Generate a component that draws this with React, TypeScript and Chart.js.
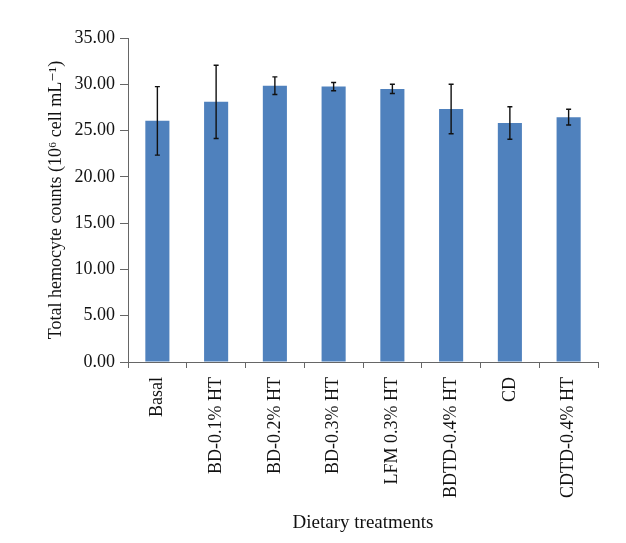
import React, { useEffect, useRef } from "react";
import { Chart, registerables } from "chart.js";

Chart.register(...registerables);

const categories = [
  "Basal",
  "BD-0.1% HT",
  "BD-0.2% HT",
  "BD-0.3% HT",
  "LFM 0.3% HT",
  "BDTD-0.4% HT",
  "CD",
  "CDTD-0.4% HT",
];
const means = [26.05, 28.1, 29.85, 29.75, 29.5, 27.33, 25.82, 26.45];
const errors = [3.7, 3.95, 0.95, 0.45, 0.5, 2.67, 1.75, 0.85];

const FONT = "'Liberation Serif', 'DejaVu Serif', serif";

const errorBarPlugin = {
  id: "errorBars",
  afterDatasetsDraw(chart: any) {
    const ctx = chart.ctx;
    const meta = chart.getDatasetMeta(0);
    const yScale = chart.scales.y;
    ctx.save();
    ctx.strokeStyle = "#111";
    ctx.lineWidth = 1.4;
    meta.data.forEach((bar: any, i: number) => {
      const x = bar.x;
      const yTop = yScale.getPixelForValue(means[i] + errors[i]);
      const yBot = yScale.getPixelForValue(means[i] - errors[i]);
      const cap = 2.5;
      ctx.beginPath();
      ctx.moveTo(x, yTop);
      ctx.lineTo(x, yBot);
      ctx.moveTo(x - cap, yTop);
      ctx.lineTo(x + cap, yTop);
      ctx.moveTo(x - cap, yBot);
      ctx.lineTo(x + cap, yBot);
      ctx.stroke();
    });
    ctx.restore();
  },
};

export default function App() {
  const ref = useRef<HTMLCanvasElement>(null);
  useEffect(() => {
    if (!ref.current) return;
    const chart = new Chart(ref.current, {
      type: "bar",
      data: {
        labels: categories,
        datasets: [
          {
            data: means,
            backgroundColor: "#4F81BD",
            barPercentage: 0.41,
            categoryPercentage: 1.0,
          },
        ],
      },
      options: {
        animation: false,
        responsive: false,
        devicePixelRatio: 1,
        layout: { padding: { left: 0, right: 28, top: 38, bottom: 0 } },
        plugins: { legend: { display: false }, tooltip: { enabled: false } },
        scales: {
          x: {
            offset: true,
            grid: {
              offset: true,
              drawOnChartArea: false,
              drawTicks: true,
              tickLength: 6,
              color: "#666",
            },
            border: { color: "#666", width: 1 },
            ticks: {
              minRotation: 90,
              maxRotation: 90,
              autoSkip: false,
              color: "#111",
              font: { family: FONT, size: 18 },
              padding: 9,
            },
            title: {
              display: true,
              text: "Dietary treatments",
              color: "#111",
              font: { family: FONT, size: 19 },
              padding: { top: 0, bottom: 9 },
            },
            afterFit: (axis: any) => {
              axis.height = 543 - 362;
            },
          },
          y: {
            min: 0,
            max: 35,
            ticks: {
              stepSize: 5,
              color: "#111",
              font: { family: FONT, size: 18 },
              padding: 5,
              callback: (v: any) => Number(v).toFixed(2),
            },
            grid: {
              drawOnChartArea: false,
              drawTicks: true,
              tickLength: 8,
              color: "#666",
            },
            border: { color: "#666", width: 1 },
            title: {
              display: true,
              text: "Total hemocyte counts (10⁶ cell mL⁻¹)",
              color: "#111",
              font: { family: FONT, size: 18 },
              padding: { top: 45, bottom: 0 },
            },
            afterFit: (axis: any) => {
              axis.width = 128;
            },
          },
        },
      },
      plugins: [errorBarPlugin],
    });
    return () => chart.destroy();
  }, []);
  return (
    <div style={{ position: "fixed", left: 0, top: 0, width: 626, height: 543, background: "#fff" }}>
      <canvas ref={ref} width={626} height={543} />
    </div>
  );
}
